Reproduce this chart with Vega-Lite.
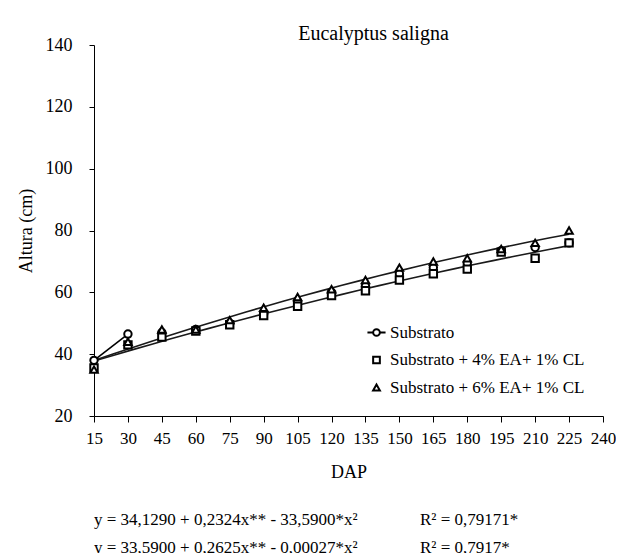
{
  "$schema": "https://vega.github.io/schema/vega-lite/v6.json",
  "background": "white",
  "padding": {"left": 17, "top": 24, "right": 0, "bottom": 0},
  "config": {
    "font": "Liberation Serif",
    "view": {"stroke": null},
    "concat": {"spacing": 30}
  },
  "vconcat": [
    {
      "width": 509,
      "height": 371,
      "title": {"text": "Eucalyptus saligna", "fontSize": 20, "fontWeight": "normal", "font": "Liberation Serif", "color": "black", "dx": 25, "offset": -8},
      "data": {
        "values": [
          {"serie": "Substrato", "dap": 15, "altura": 38},
          {"serie": "Substrato", "dap": 30, "altura": 46.5},
          {"serie": "Substrato", "dap": 45, "altura": 47},
          {"serie": "Substrato", "dap": 60, "altura": 48},
          {"serie": "Substrato", "dap": 75, "altura": 50},
          {"serie": "Substrato", "dap": 90, "altura": 53},
          {"serie": "Substrato", "dap": 105, "altura": 57},
          {"serie": "Substrato", "dap": 120, "altura": 60},
          {"serie": "Substrato", "dap": 135, "altura": 62},
          {"serie": "Substrato", "dap": 150, "altura": 66},
          {"serie": "Substrato", "dap": 165, "altura": 68},
          {"serie": "Substrato", "dap": 180, "altura": 69.5},
          {"serie": "Substrato", "dap": 195, "altura": 73.5},
          {"serie": "Substrato", "dap": 210, "altura": 74.5},
          {"serie": "Substrato", "dap": 225, "altura": 76},
          {"serie": "Substrato + 4% EA+ 1% CL", "dap": 15, "altura": 35.5},
          {"serie": "Substrato + 4% EA+ 1% CL", "dap": 30, "altura": 43},
          {"serie": "Substrato + 4% EA+ 1% CL", "dap": 45, "altura": 45.5},
          {"serie": "Substrato + 4% EA+ 1% CL", "dap": 60, "altura": 47.5},
          {"serie": "Substrato + 4% EA+ 1% CL", "dap": 75, "altura": 49.5},
          {"serie": "Substrato + 4% EA+ 1% CL", "dap": 90, "altura": 52.5},
          {"serie": "Substrato + 4% EA+ 1% CL", "dap": 105, "altura": 55.5},
          {"serie": "Substrato + 4% EA+ 1% CL", "dap": 120, "altura": 59},
          {"serie": "Substrato + 4% EA+ 1% CL", "dap": 135, "altura": 60.5},
          {"serie": "Substrato + 4% EA+ 1% CL", "dap": 150, "altura": 64},
          {"serie": "Substrato + 4% EA+ 1% CL", "dap": 165, "altura": 66},
          {"serie": "Substrato + 4% EA+ 1% CL", "dap": 180, "altura": 67.5},
          {"serie": "Substrato + 4% EA+ 1% CL", "dap": 195, "altura": 73},
          {"serie": "Substrato + 4% EA+ 1% CL", "dap": 210, "altura": 71},
          {"serie": "Substrato + 4% EA+ 1% CL", "dap": 225, "altura": 76},
          {"serie": "Substrato + 6% EA+ 1% CL", "dap": 15, "altura": 35},
          {"serie": "Substrato + 6% EA+ 1% CL", "dap": 30, "altura": 44},
          {"serie": "Substrato + 6% EA+ 1% CL", "dap": 45, "altura": 48},
          {"serie": "Substrato + 6% EA+ 1% CL", "dap": 60, "altura": 48},
          {"serie": "Substrato + 6% EA+ 1% CL", "dap": 75, "altura": 51},
          {"serie": "Substrato + 6% EA+ 1% CL", "dap": 90, "altura": 55},
          {"serie": "Substrato + 6% EA+ 1% CL", "dap": 105, "altura": 58.5},
          {"serie": "Substrato + 6% EA+ 1% CL", "dap": 120, "altura": 61},
          {"serie": "Substrato + 6% EA+ 1% CL", "dap": 135, "altura": 64},
          {"serie": "Substrato + 6% EA+ 1% CL", "dap": 150, "altura": 68},
          {"serie": "Substrato + 6% EA+ 1% CL", "dap": 165, "altura": 70},
          {"serie": "Substrato + 6% EA+ 1% CL", "dap": 180, "altura": 71},
          {"serie": "Substrato + 6% EA+ 1% CL", "dap": 195, "altura": 74},
          {"serie": "Substrato + 6% EA+ 1% CL", "dap": 210, "altura": 76},
          {"serie": "Substrato + 6% EA+ 1% CL", "dap": 225, "altura": 80}
        ]
      },
      "encoding": {
        "x": {
          "field": "dap", "type": "quantitative",
          "scale": {"domain": [15, 240], "nice": false, "zero": false},
          "axis": {
            "values": [15, 30, 45, 60, 75, 90, 105, 120, 135, 150, 165, 180, 195, 210, 225, 240],
            "title": "DAP", "grid": false,
            "domainColor": "black", "tickColor": "black", "labelColor": "black", "titleColor": "black",
            "labelFont": "Liberation Serif", "titleFont": "Liberation Serif",
            "labelFontSize": 17, "titleFontSize": 18, "titleFontWeight": "normal",
            "tickSize": 6, "labelPadding": 8, "titlePadding": 17,
            "labelFlush": false, "labelOverlap": false, "labelBound": false
          }
        },
        "y": {
          "field": "altura", "type": "quantitative",
          "scale": {"domain": [20, 140], "nice": false, "zero": false},
          "axis": {
            "values": [20, 40, 60, 80, 100, 120, 140],
            "title": "Altura (cm)", "grid": false,
            "domainColor": "black", "tickColor": "black", "labelColor": "black", "titleColor": "black",
            "labelFont": "Liberation Serif", "titleFont": "Liberation Serif",
            "labelFontSize": 18, "titleFontSize": 18, "titleFontWeight": "normal",
            "tickSize": 5, "labelPadding": 17, "titlePadding": 10
          }
        }
      },
      "layer": [
        {
          "transform": [
            {"filter": "datum.serie !== 'Substrato'"},
            {"regression": "altura", "on": "dap", "groupby": ["serie"], "method": "poly", "order": 2, "extent": [15, 225]}
          ],
          "mark": {"type": "line", "color": "#1a1a1a", "strokeWidth": 1.6},
          "encoding": {"detail": {"field": "serie"}}
        },
        {
          "transform": [{"filter": "datum.serie === 'Substrato' && datum.dap <= 30"}],
          "mark": {"type": "line", "color": "black", "strokeWidth": 1.6},
          "encoding": {}
        },
        {
          "transform": [{"filter": "datum.serie === 'Substrato'"}],
          "mark": {"type": "point", "shape": "circle", "filled": false, "fill": "white", "stroke": "black", "strokeWidth": 2, "size": 55, "opacity": 1},
          "encoding": {}
        },
        {
          "transform": [{"filter": "datum.serie !== 'Substrato'"}],
          "mark": {"type": "point", "filled": false, "fill": "white", "strokeWidth": 2, "size": 55, "opacity": 1},
          "encoding": {
            "color": {
              "field": "serie", "type": "nominal",
              "scale": {
                "domain": ["Substrato", "Substrato + 4% EA+ 1% CL", "Substrato + 6% EA+ 1% CL"],
                "range": ["black", "black", "black"]
              },
              "legend": {
                "title": null, "orient": "none", "legendX": 274, "legendY": 279,
                "labelFont": "Liberation Serif", "labelFontSize": 17, "labelColor": "black", "labelLimit": 500,
                "labelOffset": 5, "rowPadding": 9.5,
                "symbolFillColor": "white", "symbolStrokeWidth": 2, "symbolSize": 45
              }
            },
            "shape": {
              "field": "serie", "type": "nominal",
              "scale": {
                "domain": ["Substrato", "Substrato + 4% EA+ 1% CL", "Substrato + 6% EA+ 1% CL"],
                "range": ["M-2.7,0H-1M1,0H2.7M1,0A1,1,0,1,1,-1,0A1,1,0,1,1,1,0", "square", "triangle-up"]
              },
              "legend": {
                "title": null, "orient": "none", "legendX": 274, "legendY": 279,
                "labelFont": "Liberation Serif", "labelFontSize": 17, "labelColor": "black", "labelLimit": 500,
                "labelOffset": 5, "rowPadding": 9.5,
                "symbolFillColor": "white", "symbolStrokeWidth": 2, "symbolSize": 45
              }
            }
          }
        }
      ]
    },
    {
      "width": 509,
      "height": 45,
      "data": {
        "values": [
          {"linha": 1, "coluna": "equacao", "texto": "y = 34,1290 +  0,2324x** - 33,5900*x²"},
          {"linha": 1, "coluna": "r2", "texto": "R² = 0,79171*"},
          {"linha": 2, "coluna": "equacao", "texto": "y = 33,5900 + 0,2625x** - 0,00027*x²"},
          {"linha": 2, "coluna": "r2", "texto": "R² = 0,7917*"}
        ]
      },
      "mark": {"type": "text", "align": "left", "baseline": "alphabetic", "fontSize": 17, "font": "Liberation Serif", "color": "black"},
      "encoding": {
        "x": {"field": "coluna", "type": "ordinal", "scale": {"type": "point", "range": [0, 326], "padding": 0}, "axis": null},
        "y": {"field": "linha", "type": "ordinal", "scale": {"type": "point", "range": [10, 38], "padding": 0}, "axis": null},
        "text": {"field": "texto"}
      }
    }
  ]
}
